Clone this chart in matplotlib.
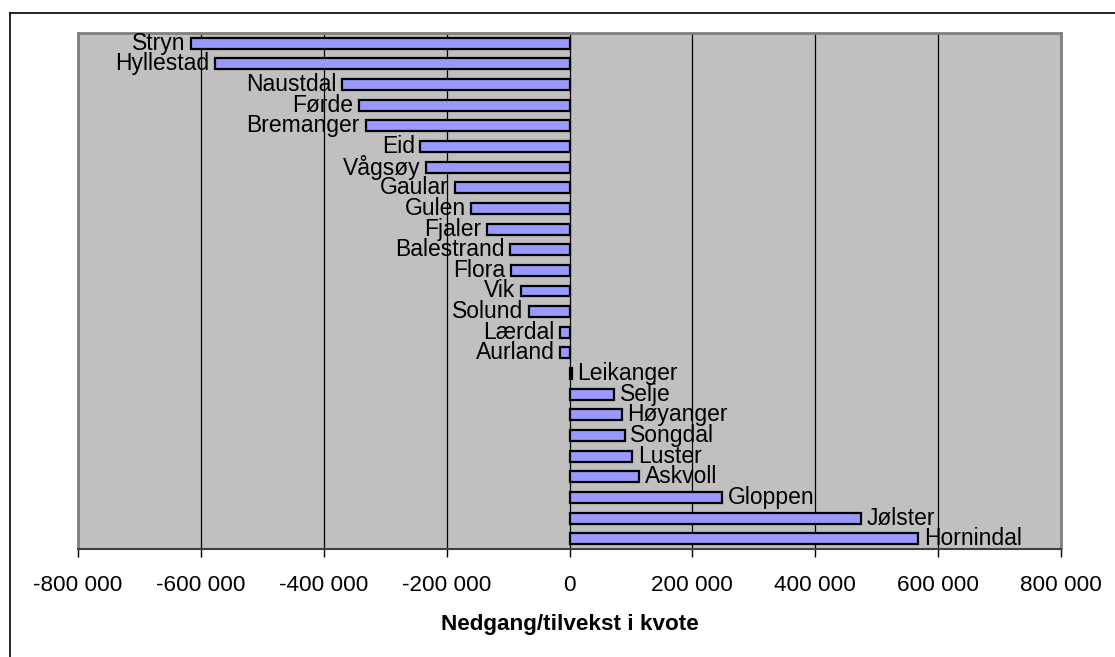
import matplotlib.pyplot as plt
from matplotlib.lines import Line2D
from matplotlib.ticker import FuncFormatter

plt.rcParams['font.family'] = ['Liberation Sans', 'DejaVu Sans']

kommuner = ['Stryn', 'Hyllestad', 'Naustdal', 'Førde', 'Bremanger', 'Eid', 'Vågsøy',
            'Gaular', 'Gulen', 'Fjaler', 'Balestrand', 'Flora', 'Vik', 'Solund',
            'Lærdal', 'Aurland', 'Leikanger', 'Selje', 'Høyanger', 'Songdal',
            'Luster', 'Askvoll', 'Gloppen', 'Jølster', 'Hornindal']
endring = [-616000, -577000, -370000, -343000, -332000, -243000, -233000,
           -187000, -160000, -134000, -97000, -95000, -79000, -66000,
           -15000, -15000, 4000, 73000, 85000, 90000,
           102000, 113000, 249000, 475000, 568000]
xticks = [-800000, -600000, -400000, -200000, 0, 200000, 400000, 600000, 800000]

fig = plt.figure(figsize=(11.15, 6.57), dpi=100)
ax = fig.add_axes([78/1115, 1-549/657, (1061-78)/1115, (549-33)/657])
ax.set_facecolor('#C0C0C0')

pos = list(range(len(kommuner)))
ax.barh(pos, endring, height=0.53, color='#9999FF', edgecolor='black', linewidth=1.6, zorder=3)

for p, name, v in zip(pos, kommuner, endring):
    if v < 0:
        ax.annotate(name, (v, p), xytext=(-4, 0), textcoords='offset points',
                    ha='right', va='center', fontsize=16.5, zorder=4)
    else:
        ax.annotate(name, (v, p), xytext=(4, 0), textcoords='offset points',
                    ha='left', va='center', fontsize=16.5, zorder=4)

ax.set_xlim(-800000, 800000)
ax.set_ylim(len(kommuner) - 0.5, -0.5)
ax.set_xticks(xticks)
ax.xaxis.set_major_formatter(FuncFormatter(lambda x, p: '{:,.0f}'.format(x).replace(',', ' ')))
ax.set_yticks([])
ax.grid(axis='x', color='black', linewidth=0.9, zorder=1)
ax.tick_params(axis='x', direction='out', length=6, width=1, labelsize=16.2, pad=13)
ax.set_xlabel('Nedgang/tilvekst i kvote', fontsize=16.2, fontweight='bold', labelpad=13)

for s in ['left', 'top', 'right']:
    ax.spines[s].set_color('#808080')
    ax.spines[s].set_linewidth(2)
ax.spines['bottom'].set_color('#404040')
ax.spines['bottom'].set_linewidth(1.5)

fy = 1 - 13/657
fx = 10/1115
fig.add_artist(Line2D([fx, 1], [fy, fy], color='black', linewidth=1.2, transform=fig.transFigure))
fig.add_artist(Line2D([fx, fx], [0, fy], color='black', linewidth=1.2, transform=fig.transFigure))

fig.savefig('out.png', dpi=100)
